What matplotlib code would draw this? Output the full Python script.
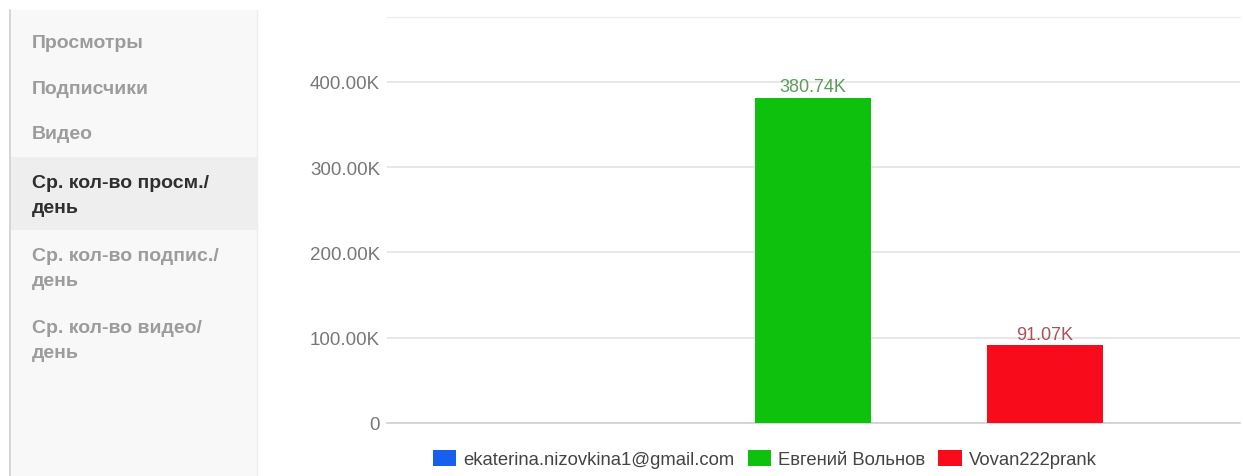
import matplotlib
matplotlib.use("Agg")
import matplotlib.pyplot as plt
from matplotlib.patches import Patch, Rectangle

plt.rcParams['font.family'] = ['Liberation Sans', 'DejaVu Sans']

# ---- data ----
series = ["ekaterina.nizovkina1@gmail.com", "Евгений Вольнов", "Vovan222prank"]
values = [0, 380740, 91070]
labels = ["", "380.74K", "91.07K"]
colors = ["#1760ee", "#0dc10d", "#f80c1b"]
label_colors = ["#4a78c0", "#5c9c5c", "#a8525e"]
yticks = [0, 100000, 200000, 300000, 400000]
ytick_labels = ["0", "100.00K", "200.00K", "300.00K", "400.00K"]
menu_items = ["Просмотры", "Подписчики", "Видео", "Ср. кол-во просм./\nдень",
              "Ср. кол-во подпис./\nдень", "Ср. кол-во видео/\nдень"]
selected = 3

W, H = 1243, 477
fig = plt.figure(figsize=(W / 100, H / 100), dpi=100)
fig.patch.set_facecolor("white")

def fx(x):
    return x / W

def fy(y):
    return 1 - y / H

# ---- sidebar ----
fig.patches.append(Rectangle((fx(10), 0), fx(247), fy(11), transform=fig.transFigure,
                             facecolor="#f8f8f8", edgecolor="none", zorder=0))
fig.patches.append(Rectangle((fx(10), fy(231)), fx(247), (231 - 158) / H,
                             transform=fig.transFigure, facecolor="#eeeeee",
                             edgecolor="none", zorder=0))
fig.lines.append(plt.Line2D([fx(9.5), fx(9.5)], [0, fy(11)], transform=fig.transFigure,
                            color="#d0d0d0", lw=1.2))
fig.lines.append(plt.Line2D([fx(257), fx(257)], [0, fy(11)], transform=fig.transFigure,
                            color="#eeeeee", lw=1.0))
menu_y = [43, 89, 135, 196, 269, 341]
for i, (t, yy) in enumerate(zip(menu_items, menu_y)):
    fig.text(fx(32), fy(yy), t, ha="left", va="center", fontsize=14,
             fontweight="bold", color="#2f2f2f" if i == selected else "#9c9c9c",
             linespacing=1.55)

# ---- chart ----
ax = fig.add_axes([fx(387), fy(424), fx(1240) - fx(387), (424 - 18) / H])
x = list(range(len(series)))
bars = ax.bar(x, values, width=0.5, color=colors, zorder=3)
for b, lab, lc in zip(bars, labels, label_colors):
    if lab:
        ax.annotate(lab, (b.get_x() + b.get_width() / 2, b.get_height()),
                    xytext=(0, 2), textcoords="offset points", ha="center",
                    va="bottom", fontsize=13, color=lc)
ax.set_xlim(-0.836, 2.84)
ax.set_ylim(0, 476000)
ax.set_yticks(yticks)
ax.set_yticklabels(ytick_labels)
ax.set_xticks([])
ax.tick_params(axis="y", length=0, pad=5, labelsize=13.5, labelcolor="#777777")
ax.yaxis.grid(True, color="#e3e3e3", lw=1.2, zorder=0)
for s in ["left", "right"]:
    ax.spines[s].set_visible(False)
ax.spines["top"].set_color("#ececec")
ax.spines["bottom"].set_color("#d0d0d0")
ax.spines["bottom"].set_linewidth(1.2)
ax.set_facecolor("white")

handles = [Patch(facecolor=c, edgecolor="none") for c in colors]
fig.legend(handles, series, loc="center", bbox_to_anchor=(fx(765), fy(460)),
           ncol=3, frameon=False, fontsize=13.3, handlelength=1.25,
           handleheight=0.95, handletextpad=0.4, columnspacing=0.7,
           labelcolor="#444444")

fig.savefig("out.png", dpi=100)
